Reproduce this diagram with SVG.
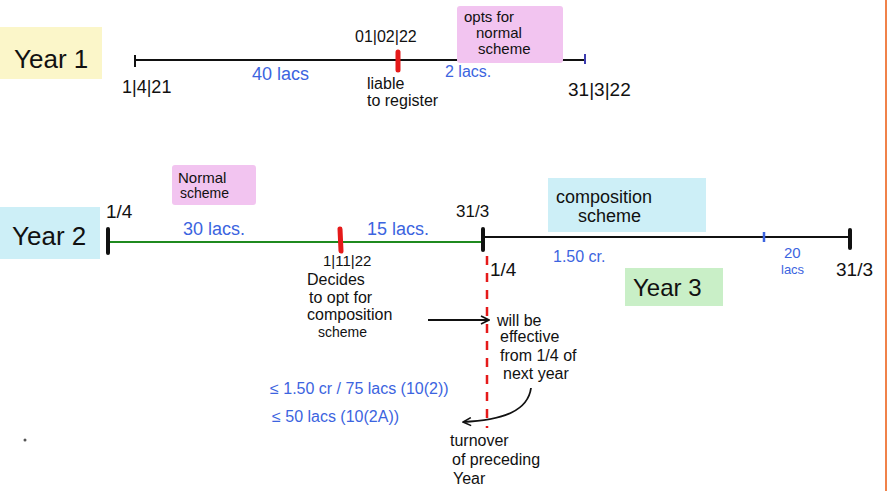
<svg xmlns="http://www.w3.org/2000/svg" width="889" height="491" viewBox="0 0 889 491">
<defs>
<style>
.t{font-family:"Liberation Sans",Arial,sans-serif;fill:#111;}
.b{font-family:"Liberation Sans",Arial,sans-serif;fill:#3c64e0;}
.ln{stroke:#111;stroke-width:2;fill:none;}
.tk{stroke:#111;stroke-width:4;stroke-linecap:round;}
.rd{stroke:#e51a1a;stroke-width:5;stroke-linecap:round;}
.yel{fill:#fbf6c9;}
.pnk{fill:#f2c4f0;}
.cyn{fill:#cdeff7;}
.grn{fill:#c9efc7;}
</style>
<marker id="ah" markerWidth="10" markerHeight="10" refX="9" refY="5" orient="auto" markerUnits="userSpaceOnUse">
<path d="M1,1 L9,5 L1,9" fill="none" stroke="#111" stroke-width="1.6"/>
</marker>
</defs>
<rect width="889" height="491" fill="#ffffff"/>
<line x1="886" y1="0" x2="886" y2="491" stroke="#f0824a" stroke-width="2"/>

<g id="year1-label">
<rect class="yel" x="0" y="27" width="102" height="52"/>
<text class="t" x="14" y="68" font-size="26">Year 1</text>
</g>

<g id="timeline1">
<line class="ln" x1="135" y1="60" x2="585" y2="60"/>
<line class="ln" x1="135" y1="55" x2="135" y2="67"/>
<line x1="585" y1="54" x2="585" y2="64" stroke="#3c3cb0" stroke-width="2"/>
<line class="rd" x1="398" y1="52" x2="398" y2="70"/>
</g>

<g id="y1-start">
<text class="t" x="122" y="93" font-size="18">1|4|21</text>
</g>
<g id="y1-40lacs">
<text class="b" x="252" y="80" font-size="18">40 lacs</text>
</g>
<g id="y1-date">
<text class="t" x="355" y="42" font-size="16">01|02|22</text>
</g>
<g id="y1-liable">
<text class="t" x="367" y="89" font-size="16">liable</text>
<text class="t" x="367" y="106" font-size="16">to register</text>
</g>
<g id="y1-2lacs">
<text class="b" x="445" y="77" font-size="16">2 lacs.</text>
</g>
<g id="y1-opts">
<rect class="pnk" x="457" y="6" width="106" height="57" rx="3"/>
<text class="t" x="464" y="22" font-size="15">opts for</text>
<text class="t" x="476" y="38" font-size="15">normal</text>
<text class="t" x="478" y="54" font-size="15">scheme</text>
</g>
<g id="y1-end">
<text class="t" x="568" y="96" font-size="19">31|3|22</text>
</g>

<g id="year2-label">
<rect class="cyn" x="0" y="207" width="100" height="52"/>
<text class="t" x="12" y="245" font-size="26">Year 2</text>
</g>

<g id="timeline2">
<line x1="108" y1="242" x2="483" y2="242" stroke="#1f8a1f" stroke-width="2"/>
<line class="tk" x1="108" y1="229" x2="108" y2="253"/>
<line class="rd" x1="340" y1="229" x2="341" y2="251"/>
</g>

<g id="timeline3">
<line class="ln" x1="483" y1="237" x2="850" y2="237"/>
<line class="tk" x1="483" y1="229" x2="483" y2="250"/>
<line x1="764" y1="232" x2="764" y2="242" stroke="#3c64e0" stroke-width="2.5"/>
<line class="tk" x1="850" y1="230" x2="850" y2="248"/>
</g>

<g id="y2-start">
<text class="t" x="106" y="218" font-size="19">1/4</text>
</g>
<g id="y2-normal">
<rect class="pnk" x="172" y="165" width="84" height="40" rx="3"/>
<text class="t" x="178" y="183" font-size="15">Normal</text>
<text class="t" x="180" y="198" font-size="14">scheme</text>
</g>
<g id="y2-30lacs">
<text class="b" x="183" y="235" font-size="18">30 lacs.</text>
</g>
<g id="y2-15lacs">
<text class="b" x="367" y="235" font-size="18">15 lacs.</text>
</g>
<g id="y2-end">
<text class="t" x="456" y="217" font-size="17">31/3</text>
</g>
<g id="y2-decides">
<text class="t" x="323" y="266" font-size="15">1|11|22</text>
<text class="t" x="307" y="285" font-size="16">Decides</text>
<text class="t" x="309" y="303" font-size="16">to opt for</text>
<text class="t" x="307" y="320" font-size="16">composition</text>
<text class="t" x="318" y="337" font-size="14">scheme</text>
</g>

<g id="y3-composition">
<rect class="cyn" x="548" y="178" width="158" height="54"/>
<text class="t" x="556" y="203" font-size="18">composition</text>
<text class="t" x="578" y="222" font-size="18">scheme</text>
</g>
<g id="y3-150cr">
<text class="b" x="553" y="262" font-size="16">1.50 cr.</text>
</g>
<g id="y3-20lacs">
<text class="b" x="784" y="258" font-size="15">20</text>
<text class="b" x="781" y="274" font-size="13">lacs</text>
</g>
<g id="y3-end">
<text class="t" x="836" y="276" font-size="19">31/3</text>
</g>
<g id="y3-start">
<text class="t" x="490" y="276" font-size="19">1/4</text>
</g>
<g id="year3-label">
<rect class="grn" x="625" y="268" width="98" height="38"/>
<text class="t" x="633" y="296" font-size="24">Year 3</text>
</g>

<g id="effective">
<text class="t" x="497" y="326" font-size="16">will be</text>
<text class="t" x="500" y="342" font-size="16">effective</text>
<text class="t" x="500" y="361" font-size="16">from 1/4 of</text>
<text class="t" x="503" y="379" font-size="16">next year</text>
</g>

<g id="limits">
<text class="b" x="270" y="394" font-size="16">≤ 1.50 cr / 75 lacs (10(2))</text>
<text class="b" x="272" y="422" font-size="16">≤ 50 lacs (10(2A))</text>
</g>

<g id="turnover">
<text class="t" x="450" y="446" font-size="16">turnover</text>
<text class="t" x="452" y="465" font-size="16">of preceding</text>
<text class="t" x="453" y="484" font-size="16">Year</text>
</g>

<g id="connectors">
<line x1="487" y1="256" x2="487" y2="428" stroke="#e51a1a" stroke-width="2.5" stroke-dasharray="9,8"/>
<line x1="428" y1="320" x2="489" y2="320" stroke="#111" stroke-width="1.8" marker-end="url(#ah)"/>
<path d="M531,388 C528,410 505,420 463,422" fill="none" stroke="#111" stroke-width="1.8" marker-end="url(#ah)"/>
</g>

<circle cx="25" cy="440" r="1.5" fill="#555"/>
</svg>
